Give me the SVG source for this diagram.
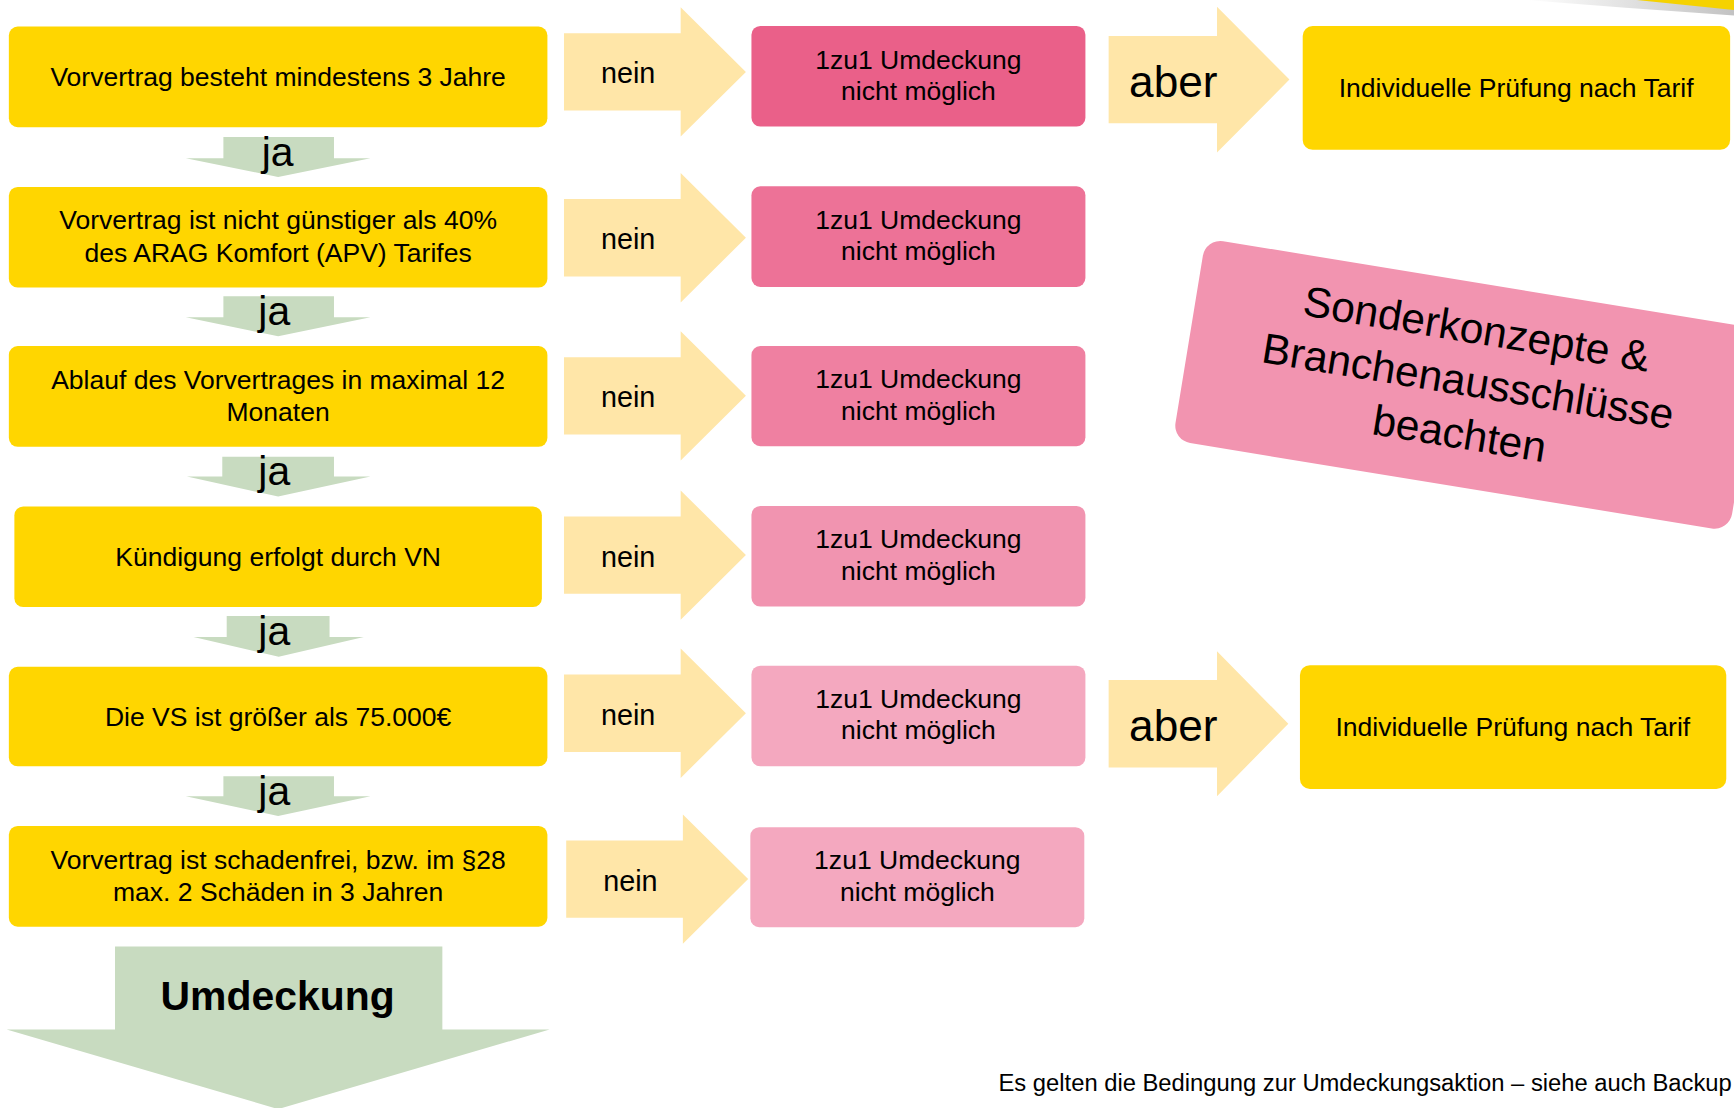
<svg xmlns="http://www.w3.org/2000/svg" width="1734" height="1108" viewBox="0 0 1734 1108">
<defs>
<style>
text{font-family:"Liberation Sans",Arial,sans-serif;fill:#000;text-anchor:middle}
.t{font-size:24px}
.nein{font-size:26px}
.aber{font-size:40px}
.ja{font-size:37px}
.big{font-size:37px;font-weight:bold}
.foot{font-size:21.5px;text-anchor:end}
.sk{font-size:38.5px}
.yel{fill:#FFD600}
.lt{fill:#FFE6A8}
.grn{fill:#C8DBC0}
</style>
<linearGradient id="shd" x1="0" y1="0" x2="1" y2="0">
<stop offset="0" stop-color="#ffffff"/>
<stop offset="1" stop-color="#9a9a9a"/>
</linearGradient>
</defs>
<rect width="1734" height="1108" fill="#ffffff"/>
<g transform="scale(1.10587 1.10579)">
<g id="deco">
<polygon points="1380,0 1568,0 1568,14 1470,7" fill="url(#shd)" opacity="0.6"/>
<polygon points="1480,0 1568,0 1568,9" fill="#F5D200"/>
</g>
<g id="connectors">
<path class="lt" d="M510 30 H615.5 V6.5 L674.5 65 L615.5 123.5 V100 H510 Z"/>
<path class="lt" d="M510 180 H615.5 V156.5 L674.5 215 L615.5 273.5 V250 H510 Z"/>
<path class="lt" d="M510 323 H615.5 V299.5 L674.5 358 L615.5 416.5 V393 H510 Z"/>
<path class="lt" d="M510 467 H615.5 V443.5 L674.5 502 L615.5 560.5 V537 H510 Z"/>
<path class="lt" d="M510 610 H615.5 V586.5 L674.5 645 L615.5 703.5 V680 H510 Z"/>
<path class="lt" d="M512 760 H617.5 V736.5 L676.5 795 L617.5 853.5 V830 H512 Z"/>
<text class="nein" x="568" y="75.5">nein</text>
<text class="nein" x="568" y="225.5">nein</text>
<text class="nein" x="568" y="368.5">nein</text>
<text class="nein" x="568" y="512.5">nein</text>
<text class="nein" x="568" y="655.5">nein</text>
<text class="nein" x="570" y="805.5">nein</text>
<path class="lt" d="M1002.5 32.5 H1100.5 V6 L1166 72 L1100.5 138 V111.5 H1002.5 Z"/>
<path class="lt" d="M1002.5 615 H1100.5 V589 L1165 654.5 L1100.5 720 V694 H1002.5 Z"/>
<text class="aber" x="1061" y="88">aber</text>
<text class="aber" x="1061" y="670">aber</text>
<path class="grn" d="M202 124 H302 V143 H335 L251.5 160 L168 143 H202 Z"/>
<path class="grn" d="M202 268 H302 V287 H335 L251.5 304 L168 287 H202 Z"/>
<path class="grn" d="M201 413 H302 V431 H335 L251.5 449 L169 431 H201 Z"/>
<path class="grn" d="M205 557 H298 V576 H329 L252 594 L175 576 H205 Z"/>
<path class="grn" d="M202 702 H302 V720 H335 L251.5 738 L168 720 H202 Z"/>
<text class="ja" x="251" y="150">ja</text>
<text class="ja" x="248" y="294">ja</text>
<text class="ja" x="248" y="439">ja</text>
<text class="ja" x="248" y="583">ja</text>
<text class="ja" x="248" y="728">ja</text>
<path class="grn" d="M104 856 H400 V931 H497 L251.5 1003 L6 931 H104 Z"/>
<text class="big" x="251" y="913">Umdeckung</text>
</g>
<g id="q1"><rect class="yel" x="8" y="24" width="487" height="91" rx="8"/><text class="t" x="251.5" y="78">Vorvertrag besteht mindestens 3 Jahre</text></g>
<g id="q2"><rect class="yel" x="8" y="169" width="487" height="91" rx="8"/><text class="t" x="251.5" y="207.5">Vorvertrag ist nicht günstiger als 40%</text><text class="t" x="251.5" y="237">des ARAG Komfort (APV) Tarifes</text></g>
<g id="q3"><rect class="yel" x="8" y="313" width="487" height="91" rx="8"/><text class="t" x="251.5" y="351.5">Ablauf des Vorvertrages in maximal 12</text><text class="t" x="251.5" y="381">Monaten</text></g>
<g id="q4"><rect class="yel" x="13" y="458" width="477" height="91" rx="8"/><text class="t" x="251.5" y="512">Kündigung erfolgt durch VN</text></g>
<g id="q5"><rect class="yel" x="8" y="603" width="487" height="90" rx="8"/><text class="t" x="251.5" y="656.5">Die VS ist größer als 75.000€</text></g>
<g id="q6"><rect class="yel" x="8" y="747" width="487" height="91" rx="8"/><text class="t" x="251.5" y="785.5">Vorvertrag ist schadenfrei, bzw. im §28</text><text class="t" x="251.5" y="815">max. 2 Schäden in 3 Jahren</text></g>
<g id="n1"><rect x="679.5" y="23.5" width="302" height="91" rx="8" fill="#EA6089"/><text class="t" x="830.5" y="62">1zu1 Umdeckung</text><text class="t" x="830.5" y="90.5">nicht möglich</text></g>
<g id="n2"><rect x="679.5" y="168.5" width="302" height="91" rx="8" fill="#ED7297"/><text class="t" x="830.5" y="207">1zu1 Umdeckung</text><text class="t" x="830.5" y="235.5">nicht möglich</text></g>
<g id="n3"><rect x="679.5" y="313" width="302" height="90.5" rx="8" fill="#EF80A1"/><text class="t" x="830.5" y="351">1zu1 Umdeckung</text><text class="t" x="830.5" y="379.5">nicht möglich</text></g>
<g id="n4"><rect x="679.5" y="457.5" width="302" height="91" rx="8" fill="#F194B0"/><text class="t" x="830.5" y="496">1zu1 Umdeckung</text><text class="t" x="830.5" y="524.5">nicht möglich</text></g>
<g id="n5"><rect x="679.5" y="602" width="302" height="91" rx="8" fill="#F4A8BF"/><text class="t" x="830.5" y="640">1zu1 Umdeckung</text><text class="t" x="830.5" y="668.5">nicht möglich</text></g>
<g id="n6"><rect x="678.5" y="748" width="302" height="90.5" rx="8" fill="#F4A8BF"/><text class="t" x="829.5" y="786">1zu1 Umdeckung</text><text class="t" x="829.5" y="814.5">nicht möglich</text></g>
<g id="p1"><rect class="yel" x="1178" y="23.5" width="386.5" height="112" rx="9"/><text class="t" x="1371" y="87.5">Individuelle Prüfung nach Tarif</text></g>
<g id="p5"><rect class="yel" x="1175.5" y="601.5" width="385.5" height="112" rx="9"/><text class="t" x="1368" y="666">Individuelle Prüfung nach Tarif</text></g>
<g id="sonder" transform="translate(1327 348) rotate(9.3)"><rect x="-255" y="-92.5" width="510" height="185" rx="16" fill="#F294B0"/><text class="sk" x="0" y="-38">Sonderkonzepte &amp;</text><text class="sk" x="0" y="10">Branchenausschlüsse</text><text class="sk" x="0" y="58">beachten</text></g>
<g id="footer"><text class="foot" x="1566" y="987">Es gelten die Bedingung zur Umdeckungsaktion – siehe auch Backup</text></g>
</g>
</svg>
